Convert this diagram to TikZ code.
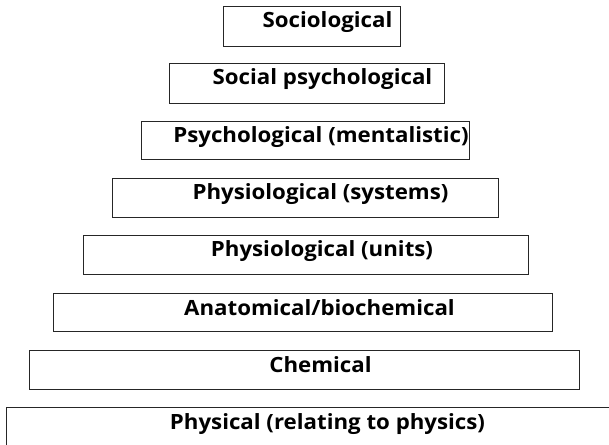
\documentclass[tikz,border=0pt]{standalone}
\usepackage{fontspec}
\setmainfont{Open Sans}
\newcommand{\wlbl}[1]{\scalebox{1.06}[1]{#1}}
\begin{document}
\begin{tikzpicture}[x=1bp,y=-1bp,
  box/.style={draw=black!85, line width=1.1bp, rectangle, inner sep=0pt, anchor=north west},
  lbl/.style={font=\bfseries\fontsize{21bp}{25bp}\selectfont, anchor=base, inner sep=0pt}]
\useasboundingbox (0,0) rectangle (609,445);
\clip (0,0) rectangle (609,445);
\fill[white] (0,0) rectangle (609,445);
\node[box, minimum width=177.5bp, minimum height=40bp] (b1) at (222.5,6) {};
\node[box, minimum width=275bp, minimum height=40bp] (b2) at (169,63) {};
\node[box, minimum width=328bp, minimum height=38bp] (b3) at (141,121) {};
\node[box, minimum width=386bp, minimum height=39bp] (b4) at (112,178) {};
\node[box, minimum width=445bp, minimum height=39bp] (b5) at (83,235) {};
\node[box, minimum width=499bp, minimum height=38bp] (b6) at (53,293) {};
\node[box, minimum width=550bp, minimum height=39bp] (b7) at (29,350) {};
\node[box, minimum width=640bp, minimum height=80bp] (b8) at (6.3,407) {};
\node[lbl] (t1) at (327.5,28) {\wlbl{Sociological}};
\node[lbl] (t2) at (322.5,85) {\wlbl{Social psychological}};
\node[lbl] (t3) at (321,143) {\wlbl{Psychological (mentalistic)}};
\node[lbl] (t4) at (320.5,200) {\wlbl{Physiological (systems)}};
\node[lbl] (t5) at (322,257) {\wlbl{Physiological (units)}};
\node[lbl] (t6) at (319.5,315) {\wlbl{Anatomical/biochemical}};
\node[lbl] (t7) at (320.5,372) {\wlbl{Chemical}};
\node[lbl] (t8) at (327.5,429) {\wlbl{Physical (relating to physics)}};
\end{tikzpicture}
\end{document}
